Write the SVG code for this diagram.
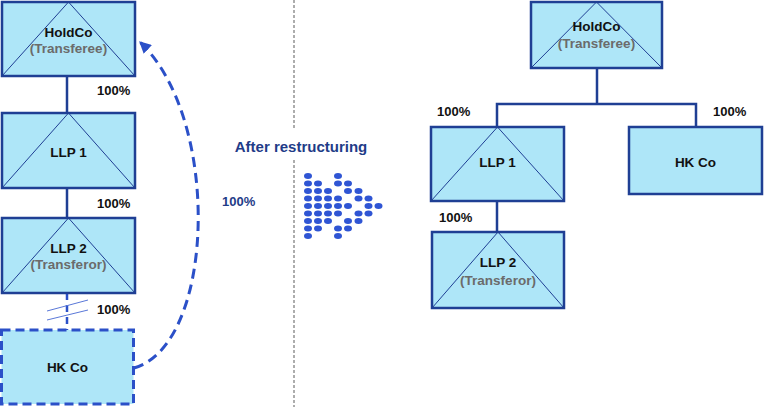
<svg xmlns="http://www.w3.org/2000/svg" width="764" height="407" viewBox="0 0 764 407">
<defs>
<style>
.box{fill:#aee6f8;stroke:#1f3f94;stroke-width:2.5}
.dbox{fill:#aee6f8;stroke:#2b50c8;stroke-width:3;stroke-dasharray:9,5}
.tri{fill:none;stroke:#1f3f94;stroke-width:1}
.ln{stroke:#1f3f94;stroke-width:2.5;fill:none}
.t{font-family:"Liberation Sans",Arial,sans-serif;font-weight:bold;font-size:13.5px;fill:#111;text-anchor:middle}
.g{font-family:"Liberation Sans",Arial,sans-serif;font-weight:bold;font-size:13.5px;fill:#6b6b6b;text-anchor:middle}
.p{font-family:"Liberation Sans",Arial,sans-serif;font-weight:bold;font-size:13px;fill:#111}
.d{fill:#2f55d4}
</style>
<marker id="ah" viewBox="0 0 10 10" refX="9" refY="5" markerWidth="4" markerHeight="4" orient="auto" markerUnits="strokeWidth">
<path d="M0,0 L10,5 L0,10 z" fill="#2b50c8"/>
</marker>
</defs>
<rect width="764" height="407" fill="#ffffff"/>

<g id="connectors">
<line class="ln" x1="67" y1="76" x2="67" y2="113"/>
<line class="ln" x1="67" y1="188" x2="67" y2="218"/>
<line x1="67" y1="293" x2="67" y2="330" stroke="#2b50c8" stroke-width="2.5" stroke-dasharray="7,5"/>
<line x1="47" y1="311" x2="88" y2="300" stroke="#5a78d8" stroke-width="1"/>
<line x1="47" y1="320" x2="88" y2="310" stroke="#5a78d8" stroke-width="1"/>
<path d="M134,368 C215,345 222,120 140,42" fill="none" stroke="#2b50c8" stroke-width="3" stroke-dasharray="10,6" marker-end="url(#ah)"/>
<polyline class="ln" points="597,68 597,104"/>
<polyline class="ln" points="497,127 497,104 696,104 696,127"/>
<line class="ln" x1="497" y1="201" x2="497" y2="232"/>
</g>

<g id="divider">
<line x1="294" y1="0" x2="294" y2="129" stroke="#777" stroke-width="1.2" stroke-dasharray="3,2"/>
<line x1="294" y1="160" x2="294" y2="407" stroke="#777" stroke-width="1.2" stroke-dasharray="3,2"/>
</g>

<g id="left-holdco">
<rect class="box" x="2" y="2" width="133" height="74"/>
<polyline class="tri" points="2,76 68.5,2 135,76"/>
<text class="t" x="68.5" y="37">HoldCo</text>
<text class="g" x="68.5" y="53">(Transferee)</text>
</g>
<g id="left-llp1">
<rect class="box" x="2" y="113" width="133" height="75"/>
<polyline class="tri" points="2,188 68.5,113 135,188"/>
<text class="t" x="68.5" y="157">LLP 1</text>
</g>
<g id="left-llp2">
<rect class="box" x="2" y="218" width="133" height="75"/>
<polyline class="tri" points="2,293 68.5,218 135,293"/>
<text class="t" x="68.5" y="253">LLP 2</text>
<text class="g" x="68.5" y="269">(Transferor)</text>
</g>
<g id="left-hkco">
<rect class="dbox" x="1.5" y="330" width="132" height="74"/>
<text class="t" x="67.5" y="372">HK Co</text>
</g>

<g id="left-labels">
<text class="p" x="97" y="95">100%</text>
<text class="p" x="97" y="208">100%</text>
<text class="p" x="97" y="314">100%</text>
<text class="p" x="222" y="206" fill="#1f3c88" style="fill:#1f3c88">100%</text>
</g>

<g id="after">
<text x="301" y="152" font-family="'Liberation Sans',Arial,sans-serif" font-weight="bold" font-size="15px" fill="#1f3c88" text-anchor="middle">After restructuring</text>
</g>

<g id="dot-arrow">
<ellipse class="d" cx="308" cy="176" rx="4" ry="3"/><ellipse class="d" cx="338" cy="176" rx="4" ry="3"/>
<ellipse class="d" cx="308" cy="183.5" rx="4" ry="3"/><ellipse class="d" cx="318" cy="183.5" rx="4" ry="3"/><ellipse class="d" cx="338" cy="183.5" rx="4" ry="3"/><ellipse class="d" cx="348" cy="183.5" rx="4" ry="3"/>
<ellipse class="d" cx="308" cy="191" rx="4" ry="3"/><ellipse class="d" cx="318" cy="191" rx="4" ry="3"/><ellipse class="d" cx="328" cy="191" rx="4" ry="3"/><ellipse class="d" cx="348" cy="191" rx="4" ry="3"/><ellipse class="d" cx="358.5" cy="191" rx="4" ry="3"/>
<ellipse class="d" cx="308" cy="198.5" rx="4" ry="3"/><ellipse class="d" cx="318" cy="198.5" rx="4" ry="3"/><ellipse class="d" cx="328" cy="198.5" rx="4" ry="3"/><ellipse class="d" cx="338" cy="198.5" rx="4" ry="3"/><ellipse class="d" cx="358.5" cy="198.5" rx="4" ry="3"/><ellipse class="d" cx="368.5" cy="198.5" rx="4" ry="3"/>
<ellipse class="d" cx="308" cy="206" rx="4" ry="3"/><ellipse class="d" cx="318" cy="206" rx="4" ry="3"/><ellipse class="d" cx="328" cy="206" rx="4" ry="3"/><ellipse class="d" cx="338" cy="206" rx="4" ry="3"/><ellipse class="d" cx="348" cy="206" rx="4" ry="3"/><ellipse class="d" cx="368.5" cy="206" rx="4" ry="3"/><ellipse class="d" cx="378.5" cy="206" rx="4" ry="3"/>
<ellipse class="d" cx="308" cy="213.5" rx="4" ry="3"/><ellipse class="d" cx="318" cy="213.5" rx="4" ry="3"/><ellipse class="d" cx="328" cy="213.5" rx="4" ry="3"/><ellipse class="d" cx="338" cy="213.5" rx="4" ry="3"/><ellipse class="d" cx="358.5" cy="213.5" rx="4" ry="3"/><ellipse class="d" cx="368.5" cy="213.5" rx="4" ry="3"/>
<ellipse class="d" cx="308" cy="221" rx="4" ry="3"/><ellipse class="d" cx="318" cy="221" rx="4" ry="3"/><ellipse class="d" cx="328" cy="221" rx="4" ry="3"/><ellipse class="d" cx="348" cy="221" rx="4" ry="3"/><ellipse class="d" cx="358.5" cy="221" rx="4" ry="3"/>
<ellipse class="d" cx="308" cy="228.5" rx="4" ry="3"/><ellipse class="d" cx="318" cy="228.5" rx="4" ry="3"/><ellipse class="d" cx="338" cy="228.5" rx="4" ry="3"/><ellipse class="d" cx="348" cy="228.5" rx="4" ry="3"/>
<ellipse class="d" cx="308" cy="236" rx="4" ry="3"/><ellipse class="d" cx="338" cy="236" rx="4" ry="3"/>
</g>

<g id="right-holdco">
<rect class="box" x="531" y="2" width="131" height="66"/>
<polyline class="tri" points="531,68 596.5,2 662,68"/>
<text class="t" x="596.5" y="31">HoldCo</text>
<text class="g" x="596.5" y="48">(Transferee)</text>
</g>
<g id="right-llp1">
<rect class="box" x="431" y="127" width="133" height="74"/>
<polyline class="tri" points="431,201 497.5,127 564,201"/>
<text class="t" x="497.5" y="167">LLP 1</text>
</g>
<g id="right-hkco">
<rect class="box" x="629" y="127" width="133" height="67"/>
<text class="t" x="695.5" y="167">HK Co</text>
</g>
<g id="right-llp2">
<rect class="box" x="432" y="232" width="132" height="76"/>
<polyline class="tri" points="432,308 498,232 564,308"/>
<text class="t" x="498" y="267">LLP 2</text>
<text class="g" x="498" y="285">(Transferor)</text>
</g>
<g id="right-labels">
<text class="p" x="437" y="116">100%</text>
<text class="p" x="713" y="116">100%</text>
<text class="p" x="439" y="222">100%</text>
</g>
</svg>
